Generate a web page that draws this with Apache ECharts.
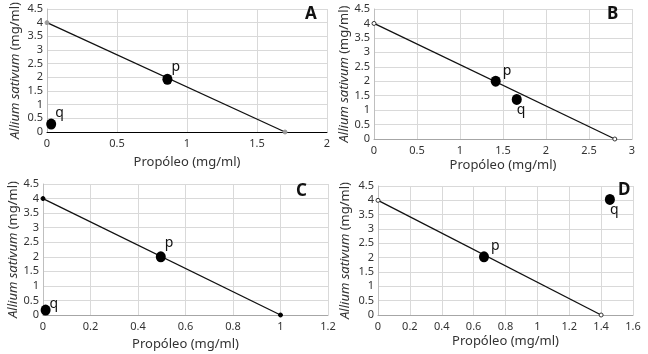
<!DOCTYPE html>
<html>
<head>
<meta charset="utf-8">
<script src="https://cdn.jsdelivr.net/npm/echarts@6/dist/echarts.min.js"></script>
<style>
  html, body { margin: 0; padding: 0; background: #fff; }
  #chart { width: 648px; height: 354px; }
</style>
</head>
<body>
<div id="chart"></div>
<script>
// panels A-D: isobole from (0, 4) to (isoboleX, 0), plus points p and q
var panelNames = ['A', 'B', 'C', 'D'];
var xMax = [2, 3, 1.2, 1.6];
var xStep = [0.5, 0.5, 0.2, 0.2];
var yMax = 4.5;
var yStep = 0.5;
var isoboleY = [4, 4, 4, 4];
var isoboleX = [1.7, 2.8, 1.0, 1.4];
var pPoints = [[0.86, 1.93], [1.415, 2.0], [0.496, 2.0], [0.665, 2.03]];
var qPoints = [[0.03, 0.29], [1.66, 1.37], [0.011, 0.17], [1.455, 4.03]];

// layout / style bits
var grids = [
  {left: 47, top: 9, width: 280, height: 123},
  {left: 374, top: 9, width: 258, height: 130},
  {left: 43, top: 184, width: 285, height: 131},
  {left: 378, top: 186, width: 255, height: 129}
];
var xNameGap = [24, 20, 23, 20];
var yNameGap = [25, 20, 21, 26];
var letterPos = [[305, 6], [607, 6], [296, 183], [618, 182]];
var endMarker = [
  {color: '#9a9a9a', borderColor: '#9a9a9a'},
  {color: '#fff', borderColor: '#333'},
  {color: '#000', borderColor: '#000'},
  {color: '#fff', borderColor: '#333'}
];
var pOffset = [[-1, -12], [2, -10], [-1, -14], [2, -11]];
var qOffset = [[-1, -11], [-5, 11], [-1, -6], [-5, 11]];
var xAxisLine = ['#000', '#a6a6a6', '#a6a6a6', '#a6a6a6'];

var font = 'Noto Sans';
var chart = echarts.init(document.getElementById('chart'));

var option = {
  animation: false,
  textStyle: {fontFamily: font},
  title: [],
  grid: [],
  xAxis: [],
  yAxis: [],
  series: []
};

panelNames.forEach(function (nm, i) {
  option.title.push({
    text: nm, left: letterPos[i][0], top: letterPos[i][1], padding: 0,
    textStyle: {fontFamily: font, fontWeight: 'bold', fontSize: 17, color: '#111'}
  });
  option.grid.push(grids[i]);
  option.xAxis.push({
    type: 'value', gridIndex: i, min: 0, max: xMax[i], interval: xStep[i],
    name: 'Propóleo (mg/ml)', nameLocation: 'middle', nameGap: xNameGap[i],
    nameTextStyle: {fontSize: 13, color: '#333'},
    axisLine: {show: true, onZero: false, lineStyle: {color: xAxisLine[i], width: 1}},
    axisTick: {show: false},
    axisLabel: {fontSize: 11, color: '#333', margin: 6},
    splitLine: {show: true, lineStyle: {color: '#d9d9d9', width: 1}}
  });
  option.yAxis.push({
    type: 'value', gridIndex: i, min: 0, max: yMax, interval: yStep,
    name: '{i|Allium sativum} (mg/ml)', nameLocation: 'middle', nameGap: yNameGap[i],
    nameTextStyle: {fontSize: 13, color: '#333', rich: {i: {fontStyle: 'italic', fontSize: 13, color: '#333'}}},
    axisLine: {show: true, lineStyle: {color: '#bfbfbf', width: 1}},
    axisTick: {show: false},
    axisLabel: {fontSize: 11, color: '#333', margin: 4},
    splitLine: {show: true, lineStyle: {color: '#d9d9d9', width: 1}}
  });
  option.series.push({
    type: 'line', xAxisIndex: i, yAxisIndex: i,
    data: [[0, isoboleY[i]], [isoboleX[i], 0]],
    symbol: 'circle', symbolSize: 4,
    itemStyle: {color: endMarker[i].color, borderColor: endMarker[i].borderColor, borderWidth: 1},
    lineStyle: {color: '#111', width: 1.3},
    z: 3
  });
  option.series.push({
    type: 'scatter', xAxisIndex: i, yAxisIndex: i,
    symbol: 'circle', symbolSize: [10, 11],
    itemStyle: {color: '#000', opacity: 1},
    label: {show: true, formatter: '{b}', fontSize: 14, color: '#111', position: 'right', distance: 0},
    data: [
      {name: 'p', value: pPoints[i], label: {offset: pOffset[i]}},
      {name: 'q', value: qPoints[i], label: {offset: qOffset[i]}}
    ],
    z: 4
  });
});

chart.setOption(option);
</script>
</body>
</html>
